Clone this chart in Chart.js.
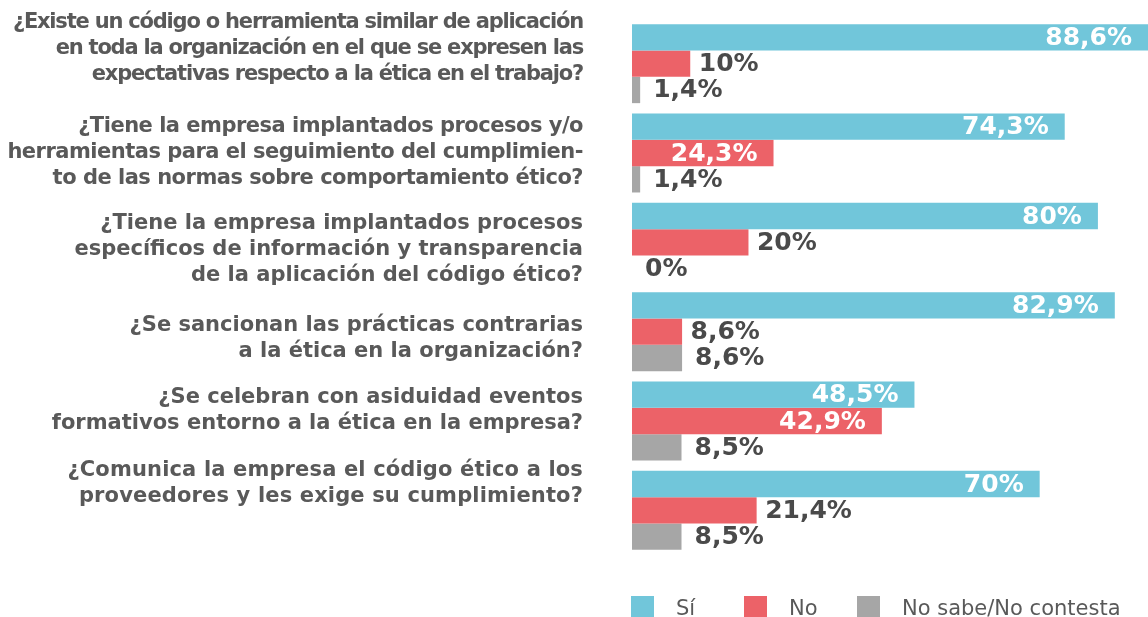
<!DOCTYPE html>
<html>
<head>
<meta charset="utf-8">
<script src="https://cdn.jsdelivr.net/npm/chart.js@4/dist/chart.umd.min.js"></script>
<style>
  html, body { margin: 0; padding: 0; background: #ffffff; }
  #wrap { width: 1148px; height: 617px; position: relative; }
</style>
</head>
<body>
<div id="wrap"><canvas id="c" width="1148" height="617"></canvas></div>
<script>
// ---- Data ----
const categories = [
  ['¿Existe un código o herramienta similar de aplicación', 'en toda la organización en el que se expresen las', 'expectativas respecto a la ética en el trabajo?'],
  ['¿Tiene la empresa implantados procesos y/o', 'herramientas para el seguimiento del cumplimien-', 'to de las normas sobre comportamiento ético?'],
  ['¿Tiene la empresa implantados procesos', 'específicos de información y transparencia', 'de la aplicación del código ético?'],
  ['¿Se sancionan las prácticas contrarias', 'a la ética en la organización?'],
  ['¿Se celebran con asiduidad eventos', 'formativos entorno a la ética en la empresa?'],
  ['¿Comunica la empresa el código ético a los', 'proveedores y les exige su cumplimiento?']
];
const seriesNames = ['Sí', 'No', 'No sabe/No contesta'];
const siValues = [88.6, 74.3, 80, 82.9, 48.5, 70];
const noValues = [10, 24.3, 20, 8.6, 42.9, 21.4];
const nsncValues = [1.4, 1.4, 0, 8.6, 8.5, 8.5];

// ---- Styles / layout ----
const colors = ['#71C6DA', '#EC6268', '#A6A6A6'];
const labelShift = [-15.5, -0.5, 7.5, 6.5, -10.5, -26.5]; // vertical nudge of category text blocks
const labelSpacing = [-1.2, -0.5, 0, 0, 0, 0.15];         // letter spacing per category block (px)
const outsideOffset = [9, 8.5, 13];
const fmt = v => String(v).replace('.', ',') + '%';

const valueLabels = {
  id: 'valueLabels',
  afterDatasetsDraw(chart) {
    const ctx = chart.ctx;
    ctx.save();
    ctx.font = 'bold 25px "DejaVu Sans", Verdana, sans-serif';
    ctx.textBaseline = 'middle';
    chart.data.datasets.forEach((ds, di) => {
      const meta = chart.getDatasetMeta(di);
      meta.data.forEach((bar, i) => {
        const v = ds.data[i];
        const text = fmt(v);
        const endX = Math.min(bar.x, chart.chartArea.right);
        if (v > 22) {
          ctx.fillStyle = '#ffffff';
          ctx.textAlign = 'right';
          ctx.fillText(text, bar.x - 16, bar.y + 1);
        } else {
          ctx.fillStyle = '#4a4a4a';
          ctx.textAlign = 'left';
          ctx.fillText(text, endX + outsideOffset[di], bar.y + 1);
        }
      });
    });
    ctx.restore();
  },
  afterDraw(chart) {
    const ctx = chart.ctx;
    const yScale = chart.scales.y;
    ctx.save();
    // category labels
    ctx.font = 'bold 21px "DejaVu Sans", Verdana, sans-serif';
    ctx.fillStyle = '#595959';
    ctx.textAlign = 'right';
    ctx.textBaseline = 'middle';
    const lh = 26;
    categories.forEach((lines, i) => {
      ctx.letterSpacing = labelSpacing[i] + 'px';
      const cy = yScale.getPixelForValue(i) + labelShift[i];
      const top = cy - (lines.length - 1) * lh / 2;
      lines.forEach((ln, k) => ctx.fillText(ln, 583, top + k * lh));
    });
    ctx.letterSpacing = '0px';
    // legend
    const legendX = [631, 744, 857];
    ctx.font = '21px "DejaVu Sans", Verdana, sans-serif';
    ctx.textAlign = 'left';
    ctx.textBaseline = 'alphabetic';
    chart.data.datasets.forEach((ds, di) => {
      ctx.fillStyle = ds.backgroundColor;
      ctx.fillRect(legendX[di], 596, 23, 23);
      ctx.fillStyle = '#595959';
      ctx.fillText(ds.label, legendX[di] + 45, 615);
    });
    ctx.restore();
  }
};

new Chart(document.getElementById('c'), {
  type: 'bar',
  data: {
    labels: categories.map(c => c.join(' ')),
    datasets: [
      { label: seriesNames[0], data: siValues, backgroundColor: colors[0] },
      { label: seriesNames[1], data: noValues, backgroundColor: colors[1] },
      { label: seriesNames[2], data: nsncValues, backgroundColor: colors[2] }
    ]
  },
  options: {
    indexAxis: 'y',
    responsive: false,
    devicePixelRatio: 1,
    animation: false,
    datasets: { bar: { categoryPercentage: 0.884, barPercentage: 1.0, borderWidth: 0 } },
    layout: { padding: { left: 632, right: 0, top: 19, bottom: 62 } },
    scales: {
      x: { display: false, min: 0, max: 88.6 },
      y: { display: false }
    },
    plugins: { legend: { display: false }, tooltip: { enabled: false } }
  },
  plugins: [valueLabels]
});
</script>
</body>
</html>
